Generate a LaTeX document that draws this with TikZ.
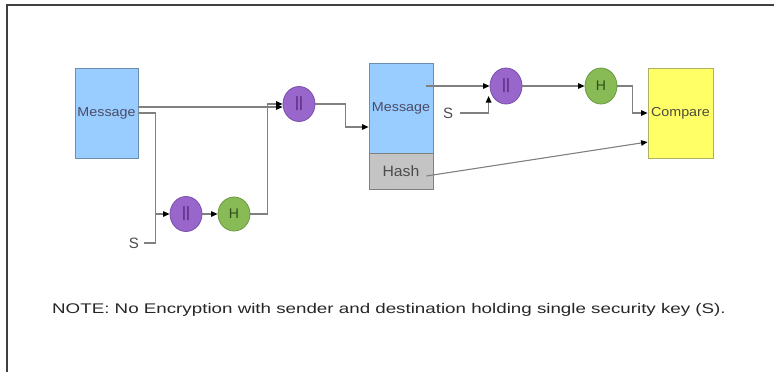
\documentclass[tikz,border=0pt]{standalone}
\usepackage{fontspec}
\setmainfont{Liberation Sans}
\usetikzlibrary{arrows.meta,shapes.geometric,calc}
\definecolor{boxblue}{HTML}{99CCFF}
\definecolor{boxblueline}{HTML}{6A8FB0}
\definecolor{purp}{HTML}{9966CC}
\definecolor{purpline}{HTML}{7A4FA8}
\definecolor{purptext}{HTML}{4B2470}
\definecolor{grn}{HTML}{88BB55}
\definecolor{grnline}{HTML}{6A9A40}
\definecolor{grntext}{HTML}{2F4F1A}
\definecolor{yel}{HTML}{FFFF66}
\definecolor{yelline}{HTML}{B0B060}
\definecolor{hashgray}{HTML}{C4C4C4}
\definecolor{conn}{HTML}{808080}
\newcommand{\wide}[2]{\scalebox{#1}[1]{#2}}
\tikzset{
  msgbox/.style={rectangle, draw=boxblueline, fill=boxblue, line width=0.8pt, minimum width=63pt, minimum height=90pt, inner sep=0pt, text=black!75!blue!40!gray, font=\fontsize{13}{13}\selectfont},
  hashbox/.style={rectangle, draw=gray, fill=hashgray, line width=0.8pt, minimum width=64pt, minimum height=36pt, inner sep=0pt, text=black!70, font=\fontsize{15}{15}\selectfont},
  cmpbox/.style={rectangle, draw=yelline, fill=yel, line width=0.8pt, minimum width=65pt, minimum height=90pt, inner sep=0pt, text=black!80!yellow, font=\fontsize{13}{13}\selectfont},
  concat/.style={ellipse, draw=purpline, fill=purp, line width=0.8pt, minimum width=32pt, minimum height=35pt, inner sep=0pt, text=purptext, font=\fontsize{15}{15}\selectfont},
  hashop/.style={ellipse, draw=grnline, fill=grn, line width=0.8pt, minimum width=32pt, minimum height=34pt, inner sep=0pt, text=grntext, font=\fontsize{14}{14}\selectfont},
  keylbl/.style={inner sep=0pt, text=black!70, font=\fontsize{15}{15}\selectfont},
  conline/.style={draw=conn, line width=1.1pt},
  arr/.style={conline, -{Triangle[length=6.5pt,width=5.5pt,fill=black,color=black]}},
  frameline/.style={draw=black!75, line width=2pt}
}
\begin{document}
\begin{tikzpicture}[x=1pt,y=-1pt]
\useasboundingbox (0,0) rectangle (774,372);
\coordinate (fbl) at (7,373);
\coordinate (ftl) at (7,5);
\coordinate (ftr) at (775,5);
\draw[frameline] (fbl) -- (ftl) -- (ftr);

\node[msgbox] (msg1) at (106.5,113) {\wide{1.1}{Message}};
\node[concat] (p1) at (299,104) {||};
\node[concat] (p2) at (186,214) {||};
\node[hashop] (h1) at (234,214) {H};
\node[keylbl] (s1) at (134,243) {S};

\node[msgbox, minimum width=64pt] (msg2) at (401,108) {\wide{1.1}{Message}};
\node[hashbox] (hash) at (401,171) {\wide{1.05}{Hash}};
\node[concat, minimum height=36pt] (p3) at (506,86) {||};
\node[keylbl] (s2) at (448,113) {S};
\node[hashop, minimum height=36pt] (h2) at (601,86) {H};
\node[cmpbox] (cmp) at (680.5,113) {\wide{1.1}{Compare}};

\node[inner sep=0pt, text=black!85, font=\fontsize{14}{14}\selectfont] (note) at (389,310) {\wide{1.34}{NOTE: No Encryption with sender and destination holding single security key (S).}};

% first block
\draw[arr] ([yshift=6pt]msg1.east) -- ([yshift=6pt]msg1.east -| p1.west);
\coordinate (j1) at ([xshift=-14pt]p2.west);
\draw[arr] (msg1.east) -| (j1) -- (p2.west);
\draw[conline] ([xshift=5pt]s1.east) -| (j1);
\draw[arr] (p2) -- (h1);
\draw[arr] (h1.east) -- ++(17,0) |- (p1.west);
\draw[arr] (p1.east) -- ++(30,0) |- ([yshift=-19pt]msg2.west);

% second block
\draw[arr] ([xshift=-7pt,yshift=22pt]msg2.east) -- (p3.west);
\draw[arr] ([xshift=7pt]s2.east) -| ([xshift=-1pt,yshift=-10pt]p3.west);
\draw[arr] (p3) -- (h2);
\draw[arr] (h2.east) -- ++(15,0) |- (cmp.west);
\draw[arr] ([xshift=-7pt,yshift=-5pt]hash.east) -- ([yshift=-29pt]cmp.west);
\end{tikzpicture}
\end{document}
